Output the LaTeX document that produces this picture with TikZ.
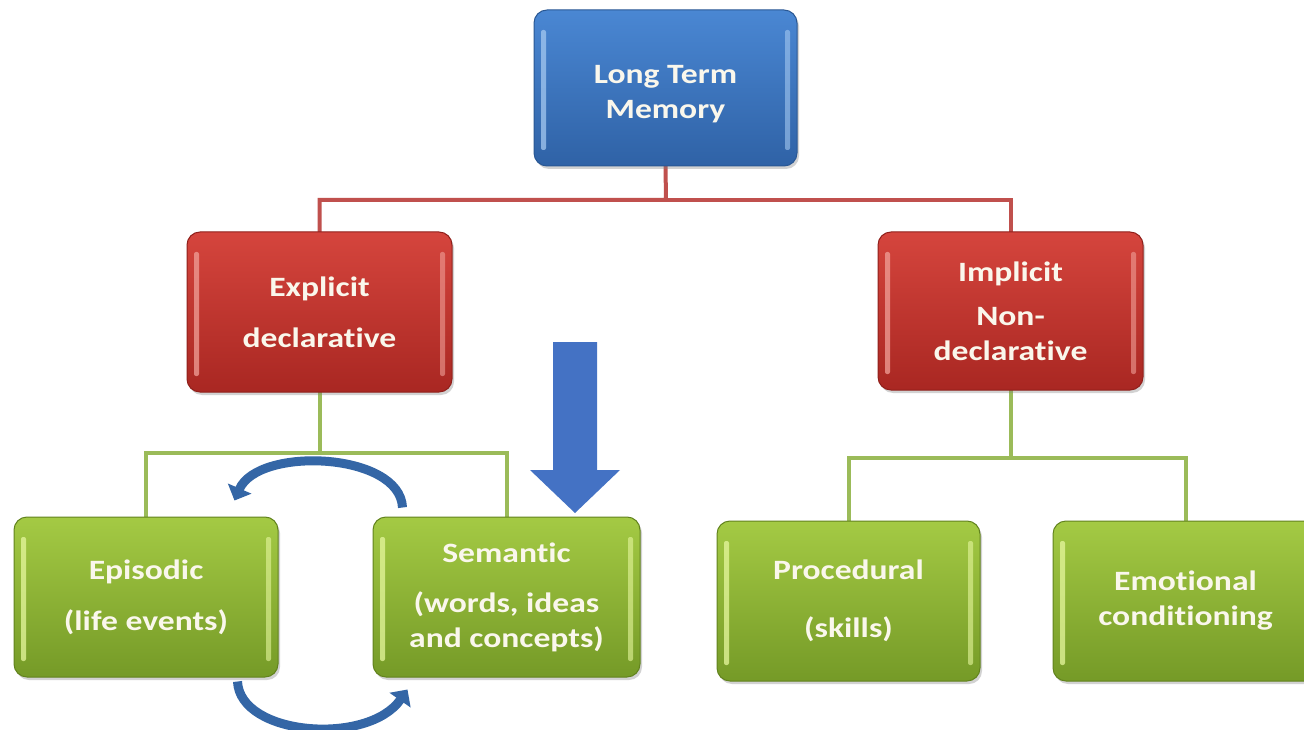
\documentclass[tikz,border=0pt]{standalone}
\usepackage{fontspec}
\setmainfont{Carlito}[FakeStretch=1.2, Ligatures=NoCommon]
\usetikzlibrary{shadows,arrows.meta}

\definecolor{bluetop}{HTML}{4A87D3}
\definecolor{bluemid}{HTML}{3B77C3}
\definecolor{bluebot}{HTML}{2F62A6}
\definecolor{blueedge}{HTML}{2A5894}
\definecolor{bluehl}{HTML}{A4C8F0}
\definecolor{redtop}{HTML}{D5453D}
\definecolor{redmid}{HTML}{C8352E}
\definecolor{redbot}{HTML}{A92722}
\definecolor{rededge}{HTML}{90201B}
\definecolor{redhl}{HTML}{F0A098}
\definecolor{greentop}{HTML}{A4CA44}
\definecolor{greenmid}{HTML}{93BC36}
\definecolor{greenbot}{HTML}{759A27}
\definecolor{greenedge}{HTML}{62831E}
\definecolor{greenhl}{HTML}{E6F79E}
\definecolor{redline}{HTML}{C0504D}
\definecolor{greenline}{HTML}{9BBB59}
\definecolor{bigarrow}{HTML}{4472C4}
\definecolor{cyclearrow}{HTML}{3466A6}
\definecolor{boxtext}{HTML}{FAF7EC}

% light vertical strips along both inner sides of a box
\newcommand\sidegloss[1]{%
  \fill[#1,opacity=.75,rounded corners=2pt]
    ([xshift=7pt,yshift=-20pt]path picture bounding box.north west) rectangle
    ([xshift=12pt,yshift=16pt]path picture bounding box.south west);
  \fill[#1,opacity=.6,rounded corners=2pt]
    ([xshift=-12pt,yshift=-20pt]path picture bounding box.north east) rectangle
    ([xshift=-7pt,yshift=16pt]path picture bounding box.south east);
}

\tikzset{
  membox/.style={rounded corners=13pt, align=center, text=boxtext,
    font=\bfseries\fontsize{28}{35}\selectfont, inner sep=0pt,
    minimum width=264pt, minimum height=158pt, line width=1pt,
    drop shadow={shadow xshift=2pt, shadow yshift=-3pt, opacity=.35}},
  bluebox/.style={membox, draw=blueedge, top color=bluetop, middle color=bluemid,
    bottom color=bluebot, path picture={\sidegloss{bluehl}}},
  redbox/.style={membox, draw=rededge, top color=redtop, middle color=redmid,
    bottom color=redbot, path picture={\sidegloss{redhl}}},
  greenbox/.style={membox, draw=greenedge, top color=greentop, middle color=greenmid,
    bottom color=greenbot, path picture={\sidegloss{greenhl}}},
  redlink/.style={draw=redline, line width=4pt},
  greenlink/.style={draw=greenline, line width=4pt},
  cycle arrow/.style={draw=cyclearrow, line width=9pt,
    -{Triangle[length=13pt,width=25pt]}},
}

\begin{document}
\begin{tikzpicture}[x=1pt,y=-1pt]
\useasboundingbox (0,0) rectangle (1304,730);
\clip (0,0) rectangle (1304,730);
\fill[white] (0,0) rectangle (1304,730);

% junction points of the tree connectors
\coordinate (topbar) at (666,200);
\coordinate (leftbar) at (320,453);
\coordinate (rightbar) at (1010,458);

% boxes are placed first (invisible) so the connectors can use their anchors
\path (665.5,88) node[minimum width=263pt, minimum height=156pt] (ltm) {};
\path (319.5,312) node[minimum width=265pt, minimum height=160pt] (exp) {};
\path (1010.5,311) node[minimum width=265pt, minimum height=158pt] (imp) {};
\path (146,597) node[minimum width=264pt, minimum height=160pt] (epi) {};
\path (506.5,597) node[minimum width=267pt, minimum height=160pt] (sem) {};
\path (848.5,601) node[minimum width=263pt, minimum height=160pt] (pro) {};
\path (1185.5,601) node[minimum width=265pt, minimum height=160pt] (emo) {};

% tree connectors
\draw[redlink] (ltm.south) -- (topbar) -| (exp.north);
\draw[redlink] (topbar) -| (imp.north);
\draw[greenlink] (exp.south) -- (exp.south |- leftbar) -| (epi.north);
\draw[greenlink] (exp.south |- leftbar) -| (sem.north);
\draw[greenlink] (imp.south) -- (imp.south |- rightbar) -| (pro.north);
\draw[greenlink] (imp.south |- rightbar) -| (emo.north);

% visible boxes
\node[bluebox, minimum width=263pt, minimum height=156pt] (ltmbox) at (ltm) {\rule{0pt}{30pt}Long Term\\Memory};
\node[redbox, minimum width=265pt, minimum height=160pt] (expbox) at (exp) {Explicit\\[16pt]declarative};
\node[redbox, minimum width=265pt, minimum height=158pt] (impbox) at (imp) {Implicit\\[9pt]Non-\\declarative};
\node[greenbox, minimum width=264pt, minimum height=160pt] (epibox) at (epi) {Episodic\\[16pt](life events)};
\node[greenbox, minimum width=267pt, minimum height=160pt] (sembox) at (sem) {Semantic\\[15pt](words, ideas\\and concepts)};
\node[greenbox, minimum width=263pt, minimum height=160pt] (probox) at (pro) {Procedural\\[23pt](skills)};
\node[greenbox, minimum width=265pt, minimum height=160pt] (emobox) at (emo) {Emotional\\conditioning};

% block arrow pointing down at the semantic box
\fill[bigarrow] (553,342) -- (597,342) -- (597,470) -- (620,470) -- (575,513)
  -- (530,470) -- (553,470) -- cycle;

% cycle between episodic and semantic memory
\coordinate (upstart) at ([xshift=30pt,yshift=9pt]sembox.north west);
\coordinate (upend) at ([xshift=-44pt,yshift=16pt]epibox.north east);
\draw[cycle arrow] (upstart) .. controls (400,452) and (258,446) .. (upend);
\coordinate (downstart) at ([xshift=-41pt,yshift=-4pt]epibox.south east);
\coordinate (downend) at ([xshift=35pt,yshift=-12pt]sembox.south west);
\draw[cycle arrow] (downstart) .. controls (240,736) and (368,746) .. (downend);
\end{tikzpicture}
\end{document}
